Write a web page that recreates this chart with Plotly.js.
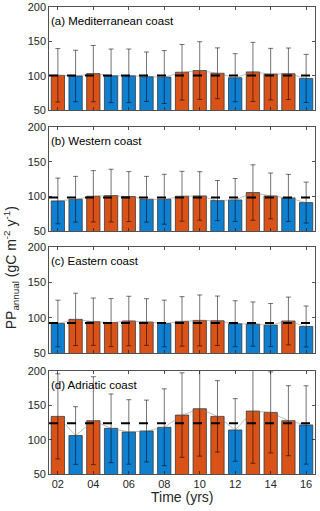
<!DOCTYPE html>
<html>
<head>
<meta charset="utf-8">
<script src="https://cdn.plot.ly/plotly-3.0.1.min.js"></script>
<style>
  html, body { margin: 0; padding: 0; background: #fff; }
  #chart { width: 320px; height: 511px; }
</style>
</head>
<body>
<div id="chart"></div>
<script>
// years on the x axis
var years = [2002, 2003, 2004, 2005, 2006, 2007, 2008, 2009, 2010, 2011, 2012, 2013, 2014, 2015, 2016];
var yearTicks = [2002, 2004, 2006, 2008, 2010, 2012, 2014, 2016];
var yearLabels = ['02', '04', '06', '08', '10', '12', '14', '16'];

// (a) Mediterranean coast
var medVals = [100.5, 99.5, 103, 99.8, 99.8, 98.5, 98, 105, 107.5, 103.5, 97, 105.5, 102.3, 102.8, 96];
var medErr  = [39, 37.5, 41, 39, 39, 36, 38.5, 40.5, 42, 37, 35, 43, 37.5, 37.5, 35];
var medMean = 100.2;

// (b) Western coast
var wesVals = [93.4, 95.8, 100.1, 101.1, 99.7, 95.8, 95.8, 100.1, 100.6, 93.9, 94.8, 105.5, 100.6, 97.8, 91];
var wesErr  = [33, 33, 37, 38, 36, 33, 36, 36, 35, 29, 31, 40, 33, 34, 29.5];
var wesMean = 98.3;

// (c) Eastern coast
var easVals = [91.8, 97.6, 94.3, 93.0, 95.3, 93.8, 91.8, 94.7, 96.1, 95.6, 91.4, 90.9, 89.5, 95.3, 87.5];
var easErr  = [33, 37, 33.5, 34, 35, 33, 33, 35, 36, 35, 32.5, 31.3, 30.5, 33.8, 29];
var easMean = 92.6;

// (d) Adriatic coast
var adrVals = [133.9, 106, 127.6, 116.5, 111.2, 112.6, 118, 135.8, 145, 133.9, 114.1, 141.6, 139.7, 127.6, 121.4];
var adrErr  = [62, 42, 64, 50, 47, 45, 56, 61.5, 69, 52, 45.6, 76, 59, 51, 57];
var adrMean = 124;

var panels = [
  {vals: medVals, err: medErr, mean: medMean, label: '(a) Mediterranean coast'},
  {vals: wesVals, err: wesErr, mean: wesMean, label: '(b) Western coast'},
  {vals: easVals, err: easErr, mean: easMean, label: '(c) Eastern coast'},
  {vals: adrVals, err: adrErr, mean: adrMean, label: '(d) Adriatic coast'}
];

var orange = '#D95319';
var blue = '#0F7FD0';
var axCol = '#262626';

// y domains of the four panels, top to bottom
var domains = [[0.7794, 1], [0.5203, 0.7430], [0.2591, 0.4861], [0, 0.2206]];

var data = [];
var shapes = [];
var annotations = [];
var layout = {
  width: 320, height: 511,
  margin: {l: 49, r: 5, t: 7, b: 37},
  paper_bgcolor: '#fff', plot_bgcolor: '#fff',
  showlegend: false,
  bargap: 0.25,
  font: {family: 'Liberation Sans, Arial, sans-serif', size: 11, color: axCol}
};

panels.forEach(function (p, i) {
  var n = i + 1;
  var xa = n === 1 ? 'x' : 'x' + n;
  var ya = n === 1 ? 'y' : 'y' + n;

  data.push({
    type: 'bar', x: years, y: p.vals, xaxis: xa, yaxis: ya,
    marker: {
      color: p.vals.map(function (v) { return v >= p.mean ? orange : blue; }),
      line: {color: '#3a3a3a', width: 0.8}
    },
    error_y: {type: 'data', array: p.err, visible: true, color: 'rgba(0,0,0,0.55)', thickness: 1, width: 2.5},
    hoverinfo: 'x+y'
  });
  // thin line through the bar tops
  data.push({
    type: 'scatter', mode: 'lines', x: years, y: p.vals, xaxis: xa, yaxis: ya,
    line: {color: 'rgba(120,120,120,0.6)', width: 0.8}, hoverinfo: 'skip'
  });

  shapes.push({
    type: 'line', xref: xa + ' domain', yref: ya, x0: 0, x1: 1, y0: p.mean, y1: p.mean,
    line: {color: '#000', width: 2, dash: 'dash'}
  });

  annotations.push({
    xref: xa + ' domain', yref: ya + ' domain', x: 0.0, y: 0.865,
    xanchor: 'left', yanchor: 'middle', showarrow: false,
    text: p.label, font: {size: 11.5, color: '#000'}
  });

  layout[n === 1 ? 'xaxis' : 'xaxis' + n] = {
    domain: [0, 1], anchor: ya, range: [2001.5, 2016.5],
    tickvals: yearTicks, ticktext: yearLabels,
    showticklabels: n === 4,
    ticks: 'inside', ticklen: 3, tickcolor: axCol, tickwidth: 0.8,
    showline: true, linecolor: axCol, linewidth: 0.8, mirror: 'ticks',
    showgrid: false, zeroline: false, fixedrange: true,
    tickfont: {size: 11, color: axCol}
  };
  layout[n === 1 ? 'yaxis' : 'yaxis' + n] = {
    domain: domains[i], anchor: xa, range: [50, 200],
    tickvals: [50, 100, 150, 200],
    ticks: 'inside', ticklen: 3, tickcolor: axCol, tickwidth: 0.8,
    showline: true, linecolor: axCol, linewidth: 0.8, mirror: 'ticks',
    showgrid: false, zeroline: false, fixedrange: true,
    tickfont: {size: 11, color: axCol}
  };
});

// shared axis titles
annotations.push({
  xref: 'paper', yref: 'paper', x: -0.142, y: 0.441, xanchor: 'center', yanchor: 'middle',
  textangle: -90, showarrow: false,
  text: 'PP<sub>annual</sub> (gC m<sup>-2</sup> y<sup>-1</sup>)',
  font: {size: 14, color: axCol}
});
annotations.push({
  xref: 'paper', yref: 'paper', x: 0.5, y: -0.05, xanchor: 'center', yanchor: 'middle',
  showarrow: false, text: 'Time (yrs)', font: {size: 14, color: axCol}
});

layout.shapes = shapes;
layout.annotations = annotations;

Plotly.newPlot('chart', data, layout, {displayModeBar: false, staticPlot: true});
</script>
</body>
</html>
